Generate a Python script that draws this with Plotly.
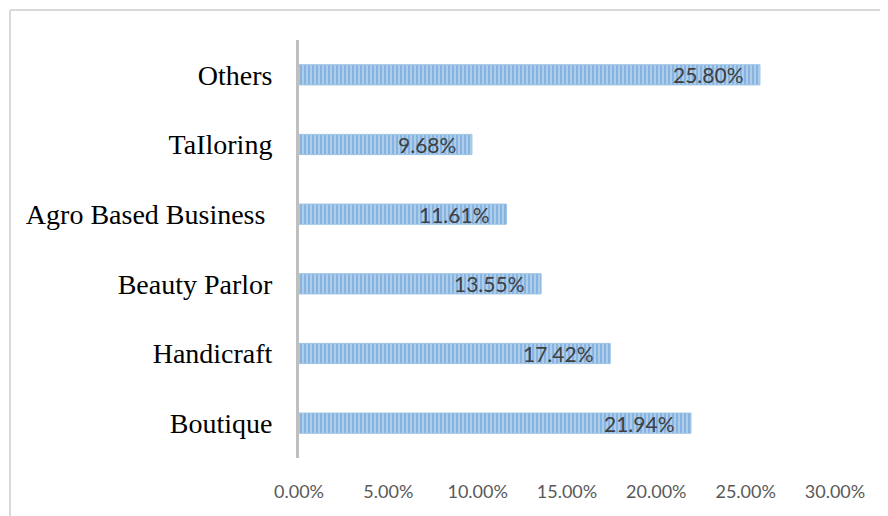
import plotly.graph_objects as go

categories = ["Boutique", "Handicraft", "Beauty Parlor", "Agro Based Business ", "TaIloring", "Others"]
values = [21.94, 17.42, 13.55, 11.61, 9.68, 25.80]
tick_vals = [0, 5, 10, 15, 20, 25, 30]
tick_text = ["0.00%", "5.00%", "10.00%", "15.00%", "20.00%", "25.00%", "30.00%"]
labels = [f"{v:.2f}%" for v in values]

# page has an 8px body margin; size the figure to fit the 888x516 window
OFF = 8
W, H = 888 - OFF, 516 - OFF
L, R, T, B = 299 - OFF, 53, 40 - OFF, 58
pw, ph = W - L - R, H - T - B

fig = go.Figure()
fig.add_trace(go.Bar(
    y=categories, x=values, orientation="h", width=0.29,
    marker=dict(
        color="#8DB9E3",
        line=dict(color="#9DC3E6", width=1),
        pattern=dict(shape="|", fgcolor="#5592D2", bgcolor="#B8D4EE", size=4, solidity=0.6),
    ),
    hoverinfo="skip",
))

for c, v, t in zip(categories, values, labels):
    fig.add_annotation(x=v, y=c, text=t, showarrow=False, xanchor="right", xshift=-14,
                       font=dict(family="Lato, Carlito, sans-serif", size=21, color="#404040"))

# outer chart border (top and left visible)
bx = (10 - OFF - L) / pw
by = 1 + (T - (10 - OFF)) / ph
fig.add_shape(type="line", xref="paper", yref="paper", x0=bx, x1=(W - L) / pw + 0.01, y0=by, y1=by,
              line=dict(color="#D9D9D9", width=2))
fig.add_shape(type="line", xref="paper", yref="paper", x0=bx, x1=bx, y0=by, y1=-B / ph - 0.01,
              line=dict(color="#D9D9D9", width=2))

fig.update_layout(
    width=W, height=H,
    margin=dict(l=L, r=R, t=T, b=B),
    plot_bgcolor="white", paper_bgcolor="white",
    showlegend=False,
    xaxis=dict(range=[0, 30], tickvals=tick_vals, ticktext=tick_text, showgrid=False,
               zeroline=False, showline=False, ticks="", ticklabelstandoff=21,
               tickfont=dict(family="Lato, Carlito, sans-serif", size=18, color="#595959")),
    yaxis=dict(showgrid=False, zeroline=False, showline=True, linecolor="#BFBFBF", linewidth=3,
               ticks="", ticklabelstandoff=18,
               tickfont=dict(family="Liberation Serif, Times New Roman, serif", size=28, color="#000000")),
)

fig.write_html("out.html")
